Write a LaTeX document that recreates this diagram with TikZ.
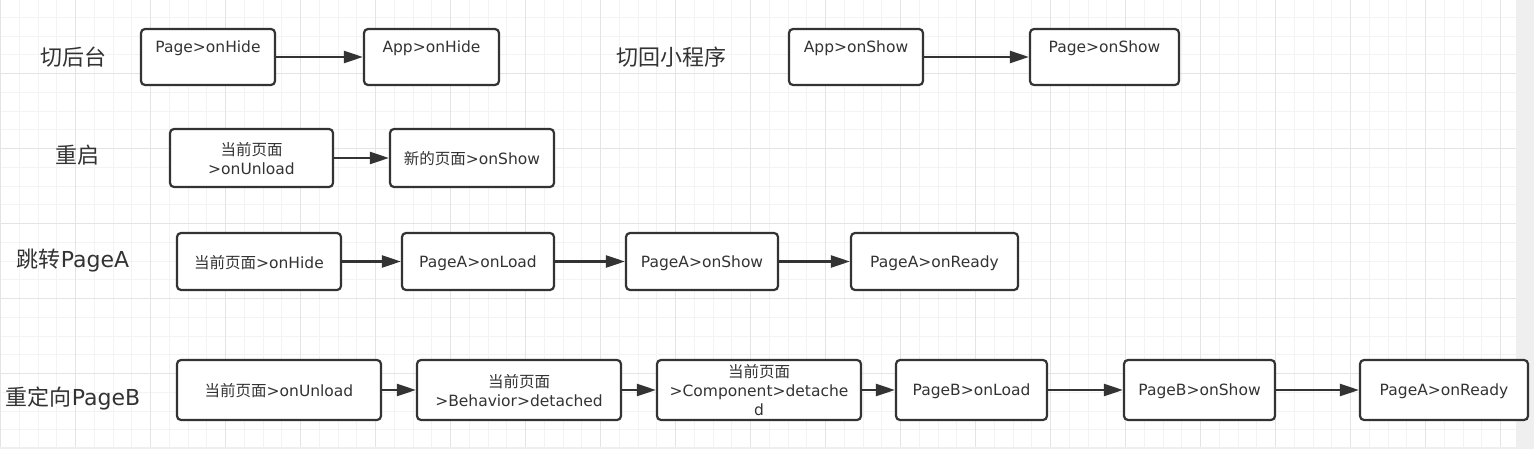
\documentclass[tikz,border=0pt]{standalone}
\usepackage{fontspec}
\setmainfont{DejaVu Sans}
\newfontfamily\cjk{Noto Sans CJK SC}
\newcommand\zh[1]{{\cjk #1}}
\usetikzlibrary{arrows.meta}
\definecolor{ink}{HTML}{333333}
\definecolor{gridmin}{HTML}{F3F3F3}
\definecolor{gridmaj}{HTML}{E4E4E4}
\definecolor{outside}{HTML}{EFEFEF}
\begin{document}
\begin{tikzpicture}[x=1pt,y=-1pt,
  box/.style={draw=ink, line width=2.2pt, rounded corners=4pt, fill=white, rectangle,
    inner sep=0pt, align=center, text=ink, text depth=0pt, font=\fontsize{15.5}{19}\selectfont},
  toplbl/.style={label={[text=ink, font=\fontsize{15.5}{19}\selectfont, inner sep=0pt,
    text height=11pt, text depth=0pt, anchor=center, yshift=-19.5pt]north:#1}},
  flow/.style={draw=ink, line width=2.2pt, -{Triangle[length=19pt,width=12pt]}},
  title/.style={text=ink, font=\fontsize{22}{26}\selectfont, inner sep=0pt,
    text height=17pt, text depth=0pt},
  minorline/.style={draw=gridmin, line width=1pt},
  majorline/.style={draw=gridmaj, line width=1pt}
]
\useasboundingbox (0,0) rectangle (1534,449);
\fill[outside] (0,0) rectangle (1534,449);
\fill[white] (0,0) rectangle (1516,447);
% grid
\foreach \k in {0,...,80} {
  \pgfmathsetmacro\xx{0.7+18.75*\k}
  \draw[minorline] (\xx,0) -- (\xx,447);
}
\foreach \k in {1,...,23} {
  \pgfmathsetmacro\yy{-1.45+18.75*\k}
  \draw[minorline] (0,\yy) -- (1516,\yy);
}
\foreach \k in {0,4,...,80} {
  \pgfmathsetmacro\xx{0.7+18.75*\k}
  \draw[majorline] (\xx,0) -- (\xx,447);
}
\foreach \k in {4,8,...,20} {
  \pgfmathsetmacro\yy{-1.45+18.75*\k}
  \draw[majorline] (0,\yy) -- (1516,\yy);
}

% titles
\node[title] (t1) at (73.5,57.5) {\zh{切后台}};
\node[title] (t2) at (671,57) {\zh{切回小程序}};
\node[title] (t3) at (77,155) {\zh{重启}};
\node[title] (t4) at (73,259) {\zh{跳转}PageA};
\node[title] (t5) at (73,396.5) {\zh{重定向}PageB};

% row 1
\node[box, minimum width=134pt, minimum height=56pt, toplbl={Page>onHide}] (a1) at (208,57) {};
\node[box, minimum width=135pt, minimum height=56pt, toplbl={App>onHide}] (a2) at (431.5,57) {};
\node[box, minimum width=134pt, minimum height=56pt, toplbl={App>onShow}] (a3) at (856,57) {};
\node[box, minimum width=149pt, minimum height=56pt, toplbl={Page>onShow}] (a4) at (1104.5,57) {};
% row 2
\node[box, minimum width=163pt, minimum height=58pt] (b1) at (251.5,158) {\zh{当前页面}\\>onUnload};
\node[box, minimum width=164pt, minimum height=58pt] (b2) at (472,158) {\zh{新的页面}>onShow};
% row 3
\node[box, minimum width=164pt, minimum height=57pt] (c1) at (259,261.5) {\zh{当前页面}>onHide};
\node[box, minimum width=152pt, minimum height=57pt] (c2) at (478,261.5) {PageA>onLoad};
\node[box, minimum width=152pt, minimum height=57pt] (c3) at (702,261.5) {PageA>onShow};
\node[box, minimum width=167pt, minimum height=57pt] (c4) at (934.5,261.5) {PageA>onReady};
% row 4
\node[box, minimum width=204pt, minimum height=60pt] (d1) at (279,390) {\zh{当前页面}>onUnload};
\node[box, minimum width=204pt, minimum height=60pt] (d2) at (519,390) {\zh{当前页面}\\>Behavior>detached};
\node[box, minimum width=204pt, minimum height=60pt] (d3) at (759,390) {\zh{当前页面}\\>Component>detache\\d};
\node[box, minimum width=151pt, minimum height=60pt] (d4) at (971.5,390) {PageB>onLoad};
\node[box, minimum width=151pt, minimum height=60pt] (d5) at (1199.5,390) {PageB>onShow};
\node[box, minimum width=168pt, minimum height=60pt] (d6) at (1444,390) {PageA>onReady};

% connectors
\draw[flow] (a1) -- (a2);
\draw[flow] (a3) -- (a4);
\draw[flow] (b1) -- (b2);
\draw[flow] (c1) -- (c2);
\draw[flow] (c2) -- (c3);
\draw[flow] (c3) -- (c4);
\draw[flow] (d1) -- (d2);
\draw[flow] (d2) -- (d3);
\draw[flow] (d3) -- (d4);
\draw[flow] (d4) -- (d5);
\draw[flow] (d5) -- (d6);
\end{tikzpicture}
\end{document}
